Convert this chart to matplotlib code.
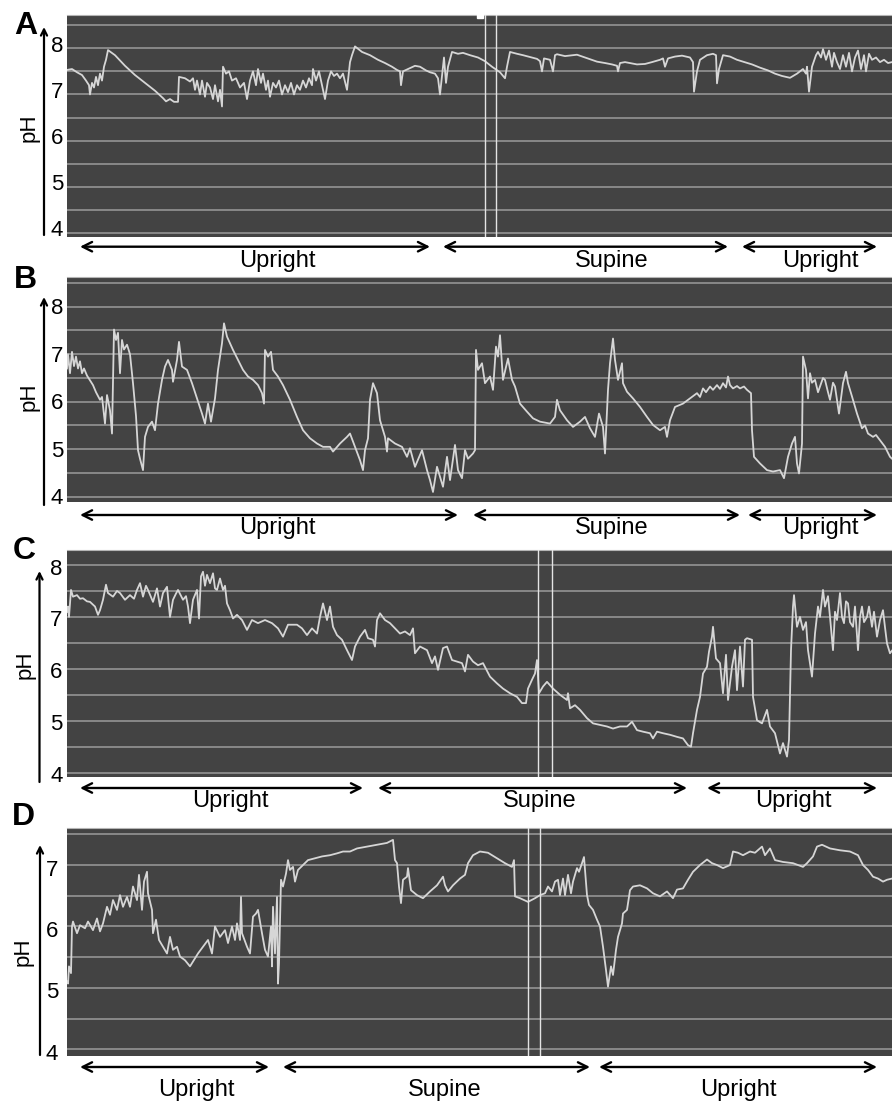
import matplotlib
matplotlib.use("Agg")
import matplotlib.pyplot as plt
import matplotlib.transforms as mtransforms
import numpy as np

plt.rcParams['font.family'] = ['Liberation Sans', 'DejaVu Sans']

# ---------------------------------------------------------------- data
# time in arbitrary recording units (window 67 .. 892), pH values
TIME_RANGE = (67, 892)

A_TRACE = [(67,7.53),(72,7.55),(77,7.48),(82,7.42),(86,7.3),(89,7.2),(90,7.0),(92,7.25),(94,7.15),
 (96,7.38),(98,7.2),(100,7.45),(102,7.3),(104,7.6),(106,7.75),(108,7.96),(115,7.85),(125,7.62),
 (135,7.42),(145,7.25),(155,7.08),(163,6.92),(166,6.85),(170,6.9),(174,6.84),(178,6.84),(179,7.38),
 (185,7.35),(190,7.28),(193,7.35),(195,7.1),(197,7.3),(200,7.0),(202,7.3),(205,6.95),(207,7.25),
 (210,7.15),(213,6.9),(215,7.2),(218,6.85),(220,7.1),(222,6.74),(223,7.6),(226,7.45),(229,7.5),
 (232,7.3),(236,7.35),(240,7.15),(244,7.25),(247,6.9),(250,7.3),(253,7.5),(256,7.2),(258,7.55),
 (261,7.25),(263,7.45),(266,7.1),(268,7.3),(270,6.95),(273,7.25),(276,7.15),(279,7.3),(282,7.0),
 (285,7.2),(288,7.05),(291,7.25),(294,7.0),(297,7.2),(300,7.1),(303,7.3),(306,7.15),(309,7.35),
 (312,7.2),(313,7.55),(316,7.3),(319,7.5),(322,7.2),(325,6.9),(328,7.3),(331,7.5),(334,7.4),
 (337,7.45),(340,7.35),(343,7.45),(347,7.1),(350,7.7),(352,7.85),(355,8.04),(362,7.92),(370,7.85),
 (378,7.75),(385,7.68),(392,7.6),(397,7.53),(400,7.5),(401,7.2),(403,7.5),(408,7.55),(415,7.62),
 (420,7.6),(426,7.52),(430,7.48),(435,7.45),(438,7.35),(440,7.0),(442,7.4),(444,7.8),(446,7.25),
 (448,7.6),(452,7.92),(458,7.88),(463,7.9),(470,7.85),(478,7.8),(485,7.72),(492,7.6),(500,7.48),
 (505,7.35),(507,7.6),(510,7.92),(517,7.88),(523,7.85),(530,7.81),(537,7.77),(540,7.72),(542,7.5),
 (544,7.78),(550,7.75),(553,7.5),(555,7.85),(557,7.87),(565,7.83),(573,7.85),(577,7.86),(585,7.8),
 (592,7.75),(597,7.71),(605,7.68),(612,7.65),(617,7.62),(618,7.5),(620,7.68),(625,7.7),(630,7.68),
 (637,7.65),(645,7.66),(652,7.7),(660,7.75),(663,7.78),(665,7.6),(668,7.78),(675,7.82),(682,7.84),
 (690,7.8),(693,7.7),(694,7.06),(697,7.5),(700,7.75),(707,7.85),(713,7.88),(716,7.85),(717,7.24),
 (719,7.55),(723,7.85),(730,7.82),(737,7.75),(743,7.71),(752,7.65),(760,7.58),(768,7.52),(775,7.45),
 (782,7.4),(790,7.36),(797,7.45),(803,7.55),(806,7.45),(807,7.6),(809,7.06),(812,7.6),(816,7.85),
 (818,7.92),(821,7.8),(823,7.98),(826,7.75),(829,7.95),(832,7.6),(834,7.9),(837,7.7),(840,7.55),
 (843,7.85),(846,7.6),(849,7.9),(852,7.5),(855,7.8),(858,7.95),(861,7.55),(864,7.85),(866,7.5),
 (869,7.88),(872,7.75),(876,7.8),(880,7.7),(884,7.75),(888,7.68),(892,7.7)]

B_TRACE = [(67,6.7),(68,7.0),(70,6.6),(72,7.05),(74,6.75),(76,6.95),(78,6.7),(80,6.85),(82,6.6),
 (84,6.7),(87,6.55),(90,6.45),(93,6.35),(96,6.2),(100,6.04),(102,6.1),(105,5.54),(107,6.14),
 (110,5.82),(112,5.33),(114,7.52),(116,7.3),(118,7.45),(120,6.6),(122,7.3),(124,7.1),(127,7.2),
 (130,7.0),(133,6.39),(136,5.7),(138,4.98),(140,4.8),(143,4.56),(145,5.26),(148,5.47),(152,5.58),
 (155,5.4),(158,5.96),(162,6.46),(165,6.74),(168,6.88),(172,6.67),(173,6.42),(177,6.88),(179,7.26),
 (182,6.74),(187,6.67),(192,6.39),(197,6.07),(202,5.75),(205,5.54),(208,5.96),(211,5.58),(215,6.07),
 (218,6.67),(222,7.23),(224,7.65),(227,7.37),(230,7.23),(233,7.09),(238,6.88),(243,6.67),(248,6.53),
 (253,6.46),(258,6.35),(262,6.18),(264,5.96),(265,7.09),(268,6.95),(271,7.05),(273,6.67),(278,6.53),
 (283,6.35),(290,6.04),(297,5.68),(303,5.4),(310,5.23),(317,5.12),(323,5.05),(330,5.05),(333,4.95),
 (340,5.12),(347,5.26),(350,5.33),(355,5.05),(360,4.77),(363,4.56),(365,4.98),(368,5.23),(370,6.04),
 (373,6.39),(377,6.18),(380,5.61),(385,5.26),(387,4.95),(388,5.23),(395,5.12),(402,5.05),(407,4.84),
 (410,5.02),(415,4.63),(422,4.98),(427,4.56),(430,4.35),(433,4.1),(437,4.63),(440,4.42),(443,4.21),
 (447,4.84),(450,4.35),(455,5.09),(458,4.56),(462,4.39),(465,4.98),(468,4.8),(473,4.91),(475,4.98),
 (476,7.09),(478,6.67),(482,6.81),(485,6.39),(490,6.53),(493,6.25),(496,7.16),(498,6.95),(500,7.4),
 (503,6.46),(508,6.91),(512,6.46),(515,6.32),(520,5.96),(527,5.79),(533,5.65),(540,5.58),(550,5.54),
 (555,5.68),(557,6.04),(560,5.82),(567,5.61),(573,5.47),(580,5.58),(585,5.68),(590,5.44),(595,5.26),
 (599,5.75),(603,5.47),(605,4.91),(608,6.25),(610,6.81),(613,7.33),(615,6.88),(618,6.46),(622,6.81),
 (623,6.39),(627,6.21),(633,6.07),(640,5.89),(647,5.68),(653,5.51),(660,5.4),(665,5.47),(667,5.26),
 (670,5.61),(675,5.89),(683,5.96),(690,6.07),(697,6.18),(700,6.1),(703,6.28),(706,6.2),(710,6.32),
 (713,6.25),(717,6.35),(720,6.27),(723,6.39),(726,6.3),(728,6.53),(730,6.35),(733,6.28),(737,6.33),
 (740,6.28),(744,6.32),(747,6.25),(751,6.18),(752,5.4),(754,4.84),(760,4.7),(767,4.56),(773,4.53),
 (780,4.56),(784,4.39),(788,4.84),(792,5.12),(795,5.26),(797,4.7),(799,4.49),(802,5.12),(803,6.95),
 (806,6.67),(808,6.07),(810,6.6),(812,6.4),(815,6.46),(818,6.2),(820,6.32),(823,6.5),(825,6.46),
 (828,6.2),(830,6.04),(833,6.4),(835,6.32),(839,5.75),(843,6.39),(846,6.63),(848,6.39),(852,6.11),
 (857,5.75),(862,5.44),(865,5.5),(868,5.33),(873,5.26),(876,5.3),(880,5.19),(885,5.05),(890,4.84),
 (892,4.8)]

C_TRACE = [(67,7.1),(68,7.2),(69,7.0),(71,7.52),(73,7.39),(77,7.42),(80,7.35),(83,7.36),(87,7.3),
 (90,7.29),(95,7.2),(98,7.04),(100,7.13),(103,7.33),(106,7.62),(108,7.46),(113,7.39),(117,7.5),
 (120,7.46),(125,7.33),(130,7.42),(134,7.35),(137,7.52),(140,7.65),(143,7.39),(146,7.6),(148,7.52),
 (153,7.29),(157,7.55),(160,7.2),(163,7.46),(167,7.58),(170,7.0),(173,7.33),(176,7.45),(178,7.52),
 (183,7.33),(186,7.4),(188,7.2),(190,6.88),(193,7.33),(197,7.52),(199,6.97),(201,7.78),(203,7.87),
 (205,7.6),(207,7.81),(210,7.65),(213,7.84),(215,7.55),(217,7.52),(220,7.74),(223,7.52),(225,7.6),
 (227,7.26),(230,7.13),(233,6.97),(237,7.04),(242,6.94),(247,6.75),(252,6.94),(258,6.88),(265,6.94),
 (272,6.88),(278,6.78),(283,6.62),(288,6.85),(297,6.85),(302,6.78),(307,6.65),(312,6.78),(317,6.68),
 (320,7.0),(323,7.26),(327,6.94),(330,7.2),(333,6.81),(337,6.65),(342,6.56),(347,6.36),(352,6.17),
 (355,6.43),(360,6.62),(365,6.75),(368,6.59),(373,6.56),(375,6.43),(377,6.94),(380,7.07),(385,6.94),
 (390,6.88),(395,6.78),(400,6.68),(405,6.72),(410,6.65),(413,6.78),(415,6.3),(420,6.43),(427,6.36),
 (432,6.11),(435,6.24),(438,5.98),(443,6.4),(447,6.43),(452,6.17),(457,6.14),(462,6.11),(465,5.95),
 (468,6.27),(473,6.14),(478,6.07),(483,6.11),(490,5.85),(497,5.72),(503,5.62),(510,5.53),(517,5.46),
 (522,5.34),(526,5.34),(528,5.62),(532,5.79),(535,5.91),(537,6.17),(539,5.53),(543,5.66),(547,5.75),
 (553,5.62),(560,5.5),(567,5.4),(568,5.53),(570,5.24),(575,5.3),(580,5.21),(587,5.05),(593,4.95),
 (600,4.92),(607,4.89),(613,4.85),(620,4.89),(627,4.89),(632,4.98),(637,4.82),(643,4.79),(650,4.76),
 (653,4.66),(657,4.79),(663,4.76),(670,4.73),(677,4.69),(683,4.66),(688,4.53),(691,4.5),(693,4.76),
 (697,5.21),(700,5.46),(703,5.91),(707,6.04),(709,6.33),(712,6.62),(713,6.81),(716,6.2),(720,6.11),
 (723,5.53),(726,6.27),(728,5.4),(732,6.04),(735,6.36),(737,5.59),(740,6.43),(743,5.66),(745,6.56),
 (747,6.59),(752,6.56),(753,5.46),(757,5.01),(762,4.95),(767,5.21),(770,4.89),(775,4.76),(780,4.37),
 (783,4.57),(787,4.31),(789,4.63),(791,6.36),(793,7.2),(794,7.42),(797,6.81),(800,7.0),(803,6.75),
 (806,6.9),(808,6.36),(812,5.85),(815,6.68),(818,7.2),(820,7.0),(823,7.52),(825,7.2),(828,7.4),
 (830,7.0),(833,6.36),(835,7.1),(837,6.94),(840,7.46),(842,7.0),(844,6.88),(846,7.3),(848,7.26),
 (850,6.9),(853,6.81),(855,7.2),(858,6.36),(860,7.0),(862,7.2),(864,6.9),(867,7.0),(869,7.2),
 (872,6.81),(874,7.1),(877,6.62),(880,6.94),(883,7.13),(885,6.8),(887,6.49),(890,6.3),(892,6.35)]

D_TRACE = [(67,5.1),(68,5.07),(69,5.35),(71,5.24),(72,6.0),(73,6.08),(77,5.89),(80,6.02),(85,5.97),
 (88,6.08),(93,5.94),(97,6.13),(100,5.92),(103,6.05),(107,6.32),(110,6.19),(113,6.43),(117,6.27),
 (120,6.51),(123,6.32),(127,6.48),(130,6.32),(133,6.65),(137,6.43),(139,6.84),(142,6.27),(144,6.73),
 (147,6.89),(148,6.54),(152,6.27),(153,5.89),(156,6.11),(159,5.78),(163,5.67),(167,5.56),(170,5.83),
 (173,5.62),(177,5.67),(180,5.51),(185,5.45),(190,5.35),(193,5.43),(198,5.56),(203,5.67),(208,5.78),
 (212,5.56),(215,6.0),(220,5.83),(225,5.94),(228,5.73),(232,6.0),(235,5.78),(237,6.05),(240,5.78),
 (241,6.48),(242,5.89),(247,5.67),(250,5.56),(253,6.16),(256,6.21),(258,6.27),(262,5.89),(265,5.62),
 (268,5.51),(271,6.0),(272,5.35),(273,6.32),(275,5.56),(277,6.48),(278,5.07),(279,5.4),(281,6.76),
 (283,6.65),(286,6.86),(288,7.08),(290,6.92),(293,6.97),(295,6.73),(298,6.92),(303,7.0),(308,7.08),
 (315,7.11),(322,7.14),(330,7.16),(337,7.19),(343,7.22),(350,7.22),(357,7.27),(367,7.3),(377,7.33),
 (387,7.36),(393,7.41),(395,7.08),(397,7.03),(399,6.65),(401,6.38),(403,6.76),(407,6.81),(408,6.95),
 (411,6.59),(417,6.51),(423,6.46),(430,6.57),(437,6.67),(443,6.81),(445,6.67),(448,6.57),(453,6.67),
 (460,6.78),(465,6.84),(468,7.03),(473,7.16),(480,7.22),(488,7.2),(497,7.11),(505,7.03),(512,6.97),
 (514,7.08),(515,6.49),(520,6.46),(528,6.4),(535,6.46),(540,6.51),(545,6.54),(548,6.65),(552,6.57),
 (555,6.73),(558,6.76),(560,6.51),(563,6.78),(565,6.51),(568,6.84),(571,6.54),(573,6.73),(577,6.95),
 (579,6.89),(582,7.03),(584,7.13),(585,6.92),(587,6.51),(589,6.35),(593,6.27),(597,6.11),(600,6.0),
 (603,5.67),(606,5.29),(608,5.02),(611,5.35),(613,5.21),(616,5.62),(618,5.83),(622,6.05),(623,6.21),
 (627,6.27),(630,6.59),(633,6.65),(640,6.67),(647,6.62),(653,6.54),(660,6.49),(667,6.57),(673,6.46),
 (677,6.6),(683,6.62),(688,6.76),(693,6.89),(700,7.0),(707,7.09),(712,7.03),(717,7.0),(723,6.95),
 (730,7.0),(733,7.22),(738,7.2),(743,7.16),(750,7.22),(755,7.2),(762,7.3),(765,7.16),(770,7.27),
 (775,7.08),(783,7.05),(793,7.03),(803,6.97),(807,7.03),(813,7.14),(817,7.3),(822,7.33),(830,7.27),
 (840,7.24),(850,7.22),(858,7.16),(863,7.0),(868,6.92),(873,6.81),(878,6.78),(883,6.73),(887,6.76),
 (892,6.78)]

# event marker lines (recording time)
A_EVENTS = [485, 495.7]
C_EVENTS = [537.7, 552]
D_EVENTS = [527.7, 540]
A_FLAG = 479.5

# body-position periods: (label, start, end, label centre)
A_POSTURE = [("Upright", 80, 430, 277), ("Supine", 443, 728, 612), ("Upright", 742, 877, 820)]
B_POSTURE = [("Upright", 80, 458, 277), ("Supine", 473, 740, 612), ("Upright", 748, 877, 820)]
C_POSTURE = [("Upright", 80, 363, 230), ("Supine", 378, 687, 540), ("Upright", 707, 877, 793)]
D_POSTURE = [("Upright", 80, 269, 196), ("Supine", 283, 590, 445), ("Upright", 599, 877, 738)]

PH_TICKS_ABC = [4, 5, 6, 7, 8]
PH_TICKS_D = [4, 5, 6, 7]

# ---------------------------------------------------------------- layout
W, H = 892, 1103
fig = plt.figure(figsize=(W / 100, H / 100), dpi=100)
fig.patch.set_facecolor('white')

def fx(x):
    return x / W

def fy(y):
    return 1 - y / H

BG = '#434343'
GRID = '#9b9b9b'
TRACE = '#d6d6d6'
EVENT = '#e4e4e4'

panels = [
    dict(letter='A', trace=A_TRACE, ylim=(3.913, 8.72), grid_top=8.5, ticks=PH_TICKS_ABC,
         events=A_EVENTS, posture=A_POSTURE, top=15, bottom=237, letter_xy=(26, 26),
         ylab_xy=(29, 128), arrow_x=44, arrow_top=27, arrow_bot=235, tick_x=57, tick_dy=-2,
         pos_y=246.7, pos_ty=261),
    dict(letter='B', trace=B_TRACE, ylim=(3.895, 8.632), grid_top=8.5, ticks=PH_TICKS_ABC,
         events=[], posture=B_POSTURE, top=276.7, bottom=501.7, letter_xy=(25, 280),
         ylab_xy=(29, 397), arrow_x=44, arrow_top=297, arrow_bot=505, tick_x=57, tick_dy=2,
         pos_y=515, pos_ty=528),
    dict(letter='C', trace=C_TRACE, ylim=(3.917, 8.289), grid_top=8.0, ticks=PH_TICKS_ABC,
         events=C_EVENTS, posture=C_POSTURE, top=550, bottom=777, letter_xy=(24, 551),
         ylab_xy=(25, 665), arrow_x=39.5, arrow_top=571, arrow_bot=782, tick_x=56.5, tick_dy=4,
         pos_y=788, pos_ty=801),
    dict(letter='D', trace=D_TRACE, ylim=(3.891, 7.598), grid_top=7.5, ticks=PH_TICKS_D,
         events=D_EVENTS, posture=D_POSTURE, top=828.3, bottom=1056, letter_xy=(23, 817),
         ylab_xy=(23, 952), arrow_x=40, arrow_top=845, arrow_bot=1055, tick_x=52, tick_dy=5,
         pos_y=1067, pos_ty=1090),
]

for p in panels:
    ax = fig.add_axes([fx(67), fy(p['bottom']), fx(892) - fx(67), (p['bottom'] - p['top']) / H])
    ax.set_facecolor(BG)
    ax.set_xlim(*TIME_RANGE)
    ax.set_ylim(*p['ylim'])
    ax.set_xticks([])
    ax.set_yticks([])
    for s in ['left', 'right', 'bottom']:
        ax.spines[s].set_visible(False)
    ax.spines['top'].set_color('#b5b5b5')
    ax.spines['top'].set_linewidth(0.8)

    for v in np.arange(4.0, p['grid_top'] + 0.01, 0.5):
        ax.axhline(v, color=GRID, lw=1.1, zorder=1)
    for e in p['events']:
        ax.axvline(e, color=EVENT, lw=1.0, zorder=3)

    t, ph = zip(*p['trace'])
    ax.plot(t, ph, color=TRACE, lw=1.3, zorder=2)

    if p['letter'] == 'A':
        ax.plot([A_FLAG], [p['ylim'][1]], marker='s', ms=4, color='white', mec='white',
                clip_on=False, zorder=4)

    # panel letter, y label, axis arrow
    fig.text(fx(p['letter_xy'][0]), fy(p['letter_xy'][1]), p['letter'], fontsize=23,
             fontweight='bold', ha='center', va='center')
    fig.text(fx(p['ylab_xy'][0]), fy(p['ylab_xy'][1]), 'pH', fontsize=16, rotation=90,
             ha='center', va='center')
    fig.add_artist(matplotlib.patches.FancyArrowPatch(
        (fx(p['arrow_x']), fy(p['arrow_bot'])), (fx(p['arrow_x']), fy(p['arrow_top'])),
        transform=fig.transFigure, arrowstyle='->', mutation_scale=11, lw=1.6, color='black',
        shrinkA=0, shrinkB=0))

    # tick numbers
    trans = mtransforms.blended_transform_factory(fig.transFigure, ax.transData)
    trans = mtransforms.offset_copy(trans, fig=fig, y=-p['tick_dy'], units='dots')
    for v in p['ticks']:
        fig.text(fx(p['tick_x']), v, str(v), transform=trans, fontsize=16,
                 ha='center', va='center')

    # posture arrows and labels
    ptrans = mtransforms.blended_transform_factory(ax.transData, fig.transFigure)
    for label, t0, t1, tc in p['posture']:
        ax.annotate('', xy=(t1, fy(p['pos_y'])), xytext=(t0, fy(p['pos_y'])),
                    xycoords=ptrans, textcoords=ptrans, annotation_clip=False,
                    arrowprops=dict(arrowstyle='<->', lw=1.7, color='black',
                                    mutation_scale=17, shrinkA=0, shrinkB=0))
        ax.text(tc, fy(p['pos_ty']), label, transform=ptrans, fontsize=17,
                ha='center', va='center', clip_on=False)

fig.savefig('out.png', dpi=100, facecolor='white')
